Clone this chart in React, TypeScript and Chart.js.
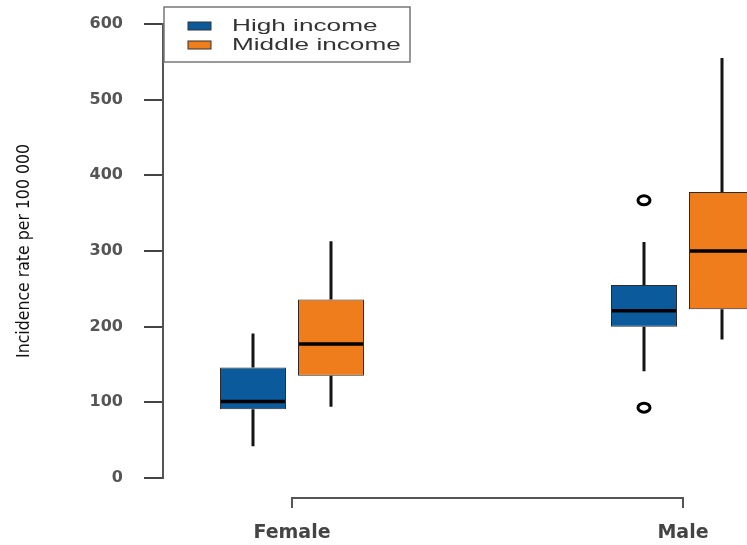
import React, { useEffect, useRef } from "react";
import { Chart, registerables } from "chart.js";

Chart.register(...registerables);

// ---- data ----
const categories = ["Female", "Male"];
const seriesNames = ["High income", "Middle income"];
const seriesColors = ["#0a5a9c", "#ef7d1b"];

const highMin = [42, 141];
const highQ1 = [91, 200];
const highMedian = [101, 221];
const highQ3 = [146, 255];
const highMax = [191, 312];
const highOutliers = [[], [93, 367]];

const midMin = [94, 183];
const midQ1 = [135, 223];
const midMedian = [177, 300];
const midQ3 = [236, 378];
const midMax = [313, 555];
const midOutliers = [[], []];

const yTicks = [0, 100, 200, 300, 400, 500, 600];
const yTitle = "Incidence rate per 100 000";

const stats = [
  { min: highMin, q1: highQ1, median: highMedian, q3: highQ3, max: highMax, outliers: highOutliers },
  { min: midMin, q1: midQ1, median: midMedian, q3: midQ3, max: midMax, outliers: midOutliers },
];

const boxPlugin = {
  id: "boxWhiskers",
  afterDatasetsDraw(chart: any) {
    const { ctx, chartArea } = chart;
    const y = chart.scales.y;
    ctx.save();
    ctx.beginPath();
    ctx.rect(chartArea.left, chartArea.top, chartArea.right - chartArea.left, chartArea.bottom - chartArea.top);
    ctx.clip();
    stats.forEach((s, d) => {
      const meta = chart.getDatasetMeta(d);
      meta.data.forEach((el: any, i: number) => {
        const { x, width } = el.getProps(["x", "width"], true);
        ctx.strokeStyle = "#141414";
        ctx.lineCap = "butt";
        ctx.lineWidth = 3;
        ctx.beginPath();
        ctx.moveTo(x, y.getPixelForValue(s.min[i]));
        ctx.lineTo(x, y.getPixelForValue(s.q1[i]));
        ctx.moveTo(x, y.getPixelForValue(s.q3[i]));
        ctx.lineTo(x, y.getPixelForValue(s.max[i]));
        ctx.stroke();
        const my = y.getPixelForValue(s.median[i]);
        ctx.strokeStyle = "#000";
        ctx.lineWidth = 3.5;
        ctx.beginPath();
        ctx.moveTo(x - width / 2 + 1, my);
        ctx.lineTo(x + width / 2 - 1, my);
        ctx.stroke();
        ctx.lineWidth = 3;
        s.outliers[i].forEach((v: number) => {
          ctx.beginPath();
          ctx.ellipse(x, y.getPixelForValue(v), 6, 4.5, 0, 0, Math.PI * 2);
          ctx.stroke();
        });
      });
    });
    ctx.restore();
  },
};

const axisBracketPlugin = {
  id: "axisBracket",
  afterDraw(chart: any) {
    const { ctx } = chart;
    const xs = chart.scales.x;
    const x1 = xs.getPixelForValue(1);
    const x2 = xs.getPixelForValue(categories.length);
    const yl = xs.top + 20;
    ctx.save();
    ctx.strokeStyle = "#555";
    ctx.lineWidth = 2;
    ctx.beginPath();
    ctx.moveTo(x1, yl + 10);
    ctx.lineTo(x1, yl);
    ctx.lineTo(x2, yl);
    ctx.lineTo(x2, yl + 10);
    ctx.stroke();
    ctx.restore();
  },
};

const legendPlugin = {
  id: "boxLegend",
  afterDraw(chart: any) {
    const { ctx, chartArea } = chart;
    const left = chartArea.left + 1;
    const top = chartArea.top - 17;
    ctx.save();
    ctx.fillStyle = "#fff";
    ctx.fillRect(left, top, 246, 55);
    ctx.strokeStyle = "#777";
    ctx.lineWidth = 1.5;
    ctx.strokeRect(left, top, 246, 55);
    chart.data.datasets.forEach((ds: any, i: number) => {
      const cy = top + 19 + i * 19;
      ctx.fillStyle = ds.backgroundColor;
      ctx.fillRect(left + 24, cy - 4, 23, 8);
      ctx.strokeStyle = "#333";
      ctx.lineWidth = 1;
      ctx.strokeRect(left + 24, cy - 4, 23, 8);
      ctx.save();
      ctx.translate(left + 68, cy);
      ctx.scale(1.54, 1);
      ctx.fillStyle = "#333";
      ctx.font = "17px 'Liberation Sans', Arial, sans-serif";
      ctx.textBaseline = "middle";
      ctx.textAlign = "left";
      ctx.fillText(ds.label, 0, 0);
      ctx.restore();
    });
    ctx.restore();
  },
};

export default function App() {
  const ref = useRef<HTMLCanvasElement>(null);
  useEffect(() => {
    const chart = new Chart(ref.current as HTMLCanvasElement, {
      type: "bar",
      data: {
        datasets: seriesNames.map((name, d) => ({
          label: name,
          data: categories.map((_, i) => ({ x: i + 1, y: [stats[d].q1[i], stats[d].q3[i]] })),
          backgroundColor: seriesColors[d],
          borderColor: "#2a2a2a",
          borderWidth: 1,
          borderSkipped: false,
          categoryPercentage: 0.399,
          barPercentage: 0.846,
        })) as any,
      },
      options: {
        animation: false,
        responsive: true,
        maintainAspectRatio: false,
        layout: { padding: { top: 24, left: 0, right: 0, bottom: 0 } },
        plugins: {
          legend: { display: false },
          tooltip: { enabled: false },
          title: { display: false },
        },
        scales: {
          x: {
            type: "linear",
            min: 0.6701,
            max: 2.1637,
            offset: false,
            grid: { display: false, drawTicks: false, offset: false },
            border: { display: false },
            afterBuildTicks: (s: any) => {
              s.ticks = categories.map((_, i) => ({ value: i + 1 }));
            },
            ticks: {
              autoSkip: false,
              maxRotation: 0,
              padding: 44,
              color: "#444",
              font: { family: "'DejaVu Sans', sans-serif", size: 19, weight: "bold" },
              callback: (v: any) => categories[Math.round(Number(v)) - 1] ?? "",
            },
            afterFit: (s: any) => {
              s.height = 67;
              s.paddingLeft = 0;
              s.paddingRight = 0;
            },
          },
          y: {
            type: "linear",
            min: 0,
            max: 600,
            afterBuildTicks: (s: any) => {
              s.ticks = yTicks.map((v) => ({ value: v }));
            },
            grid: { drawOnChartArea: false, drawTicks: true, tickLength: 19, color: "#444", lineWidth: 2 },
            border: { display: true, color: "#555", width: 2 },
            ticks: {
              padding: 21,
              color: "#555",
              font: { family: "'DejaVu Sans', sans-serif", size: 16, weight: "bold" },
            },
            title: {
              display: true,
              text: yTitle,
              color: "#111",
              font: { family: "'DejaVu Sans Condensed', 'DejaVu Sans', sans-serif", size: 17.5 },
              padding: { top: 14, bottom: 0 },
            },
            afterFit: (s: any) => {
              s.width = 163;
              s.paddingTop = 0;
              s.paddingBottom = 0;
            },
          },
        },
      } as any,
      plugins: [boxPlugin, axisBracketPlugin, legendPlugin],
    });
    return () => chart.destroy();
  }, []);
  return (
    <div
      style={{
        position: "fixed",
        left: 0,
        top: 0,
        width: 747,
        height: 545,
        overflow: "hidden",
        background: "#fff",
      }}
    >
      <canvas ref={ref} />
    </div>
  );
}
